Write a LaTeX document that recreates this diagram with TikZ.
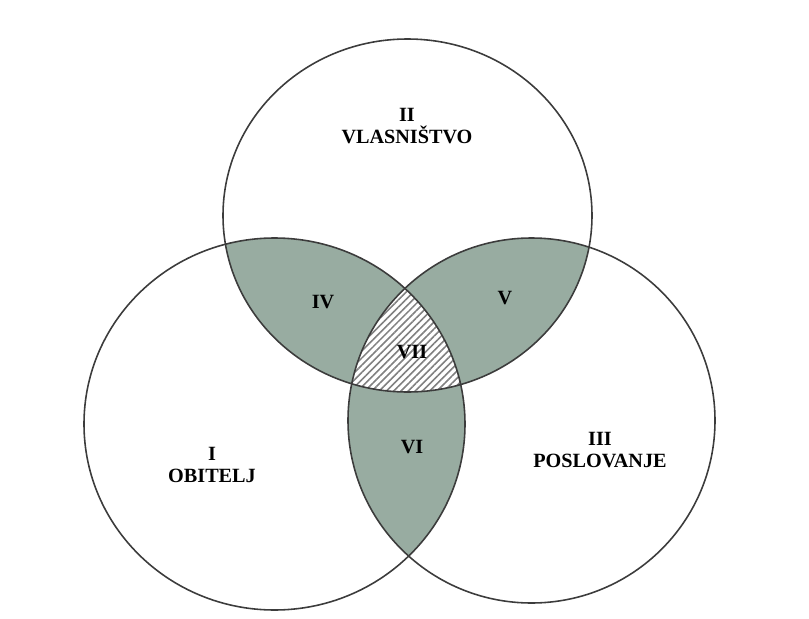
\documentclass[tikz,border=0pt]{standalone}
\usepackage{fontspec}
\setmainfont{Liberation Serif}
\usepackage{tikz}
\usetikzlibrary{patterns.meta}
\definecolor{venngreen}{RGB}{152,172,161}
\definecolor{darkline}{RGB}{60,60,60}

\begin{document}
\begin{tikzpicture}[x=0.02cm,y=-0.02cm,
        areatext/.style={font=\fontsize{11.5}{13}\selectfont\bfseries,align=center,inner sep=0pt}]
            \useasboundingbox (0,0) rectangle (809,619);
            \coordinate (c1) at (274.5,424);
            \coordinate (c2) at (407.5,215.5);
            \coordinate (c3) at (531.5,420.5);
            \def\circI{(c1) ellipse [x radius=190.5, y radius=186]}
            \def\circII{(c2) ellipse [x radius=184.5, y radius=176.5]}
            \def\circIII{(c3) ellipse [x radius=183.5, y radius=182.5]}
            %Shade
            \begin{scope}
                \clip \circII;
                \fill[venngreen] \circI;
                \fill[venngreen] \circIII;
            \end{scope}
            \begin{scope}
                \clip \circI;
                \fill[venngreen] \circIII;
            \end{scope}
            %Hatch
            \begin{scope}
                \clip \circI;
                \clip \circII;
                \fill[white] \circIII;
                \fill[pattern={Lines[angle=45,distance=2.9pt,line width=0.9pt]},pattern color=gray] \circIII;
            \end{scope}
            %Draw circles
            \draw[darkline, line width=0.9pt] \circI;
            \draw[darkline, line width=0.9pt] \circII;
            \draw[darkline, line width=0.9pt] \circIII;
            %Labels
            \node[areatext] (t2) at (407,126) {II\\VLASNIŠTVO};
            \node[areatext] (t1) at (212,465) {I\\OBITELJ};
            \node[areatext] (t3) at (600,450) {III\\POSLOVANJE};
            \node[areatext] (t4) at (323,302) {IV};
            \node[areatext] (t5) at (505,298) {V};
            \node[areatext] (t6) at (412,447) {VI};
            \node[areatext] (t7) at (412,352) {VII};
        \end{tikzpicture}
\end{document}
